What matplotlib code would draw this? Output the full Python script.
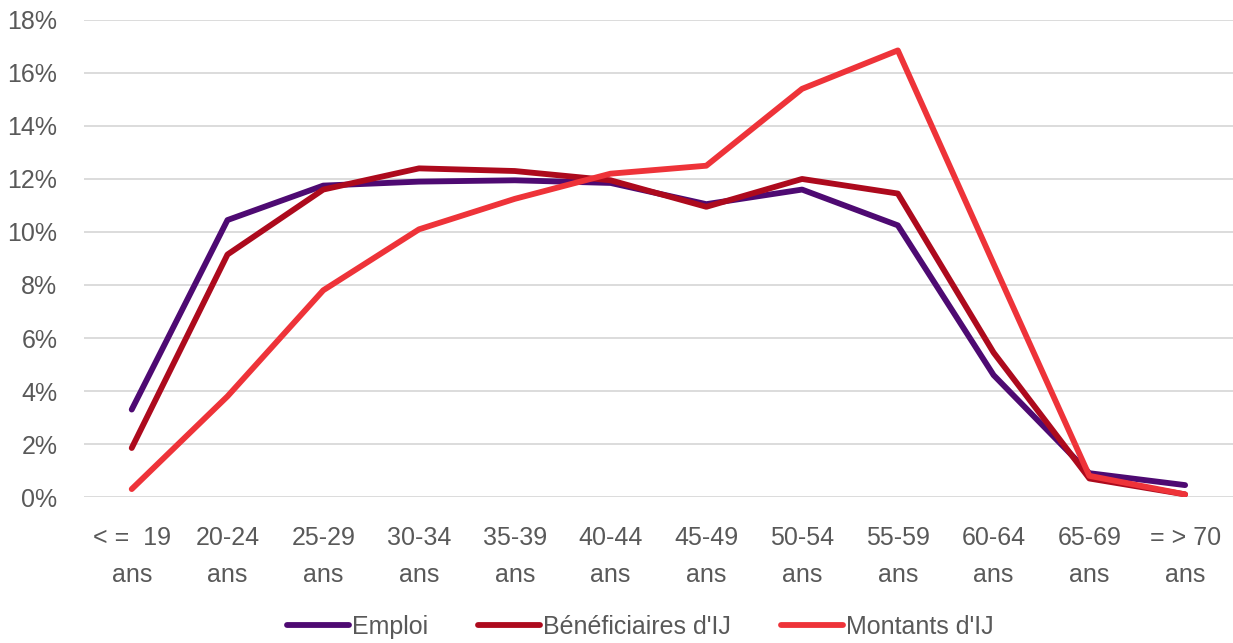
import matplotlib.pyplot as plt
from matplotlib.ticker import FuncFormatter

categories = ["< =  19\nans", "20-24\nans", "25-29\nans", "30-34\nans", "35-39\nans", "40-44\nans",
              "45-49\nans", "50-54\nans", "55-59\nans", "60-64\nans", "65-69\nans", "= > 70\nans"]
emploi = [3.3, 10.45, 11.75, 11.9, 11.95, 11.85, 11.05, 11.6, 10.25, 4.6, 0.9, 0.45]
beneficiaires = [1.85, 9.15, 11.6, 12.4, 12.3, 11.95, 10.95, 12.0, 11.45, 5.45, 0.7, 0.1]
montants = [0.3, 3.8, 7.8, 10.1, 11.25, 12.2, 12.5, 15.4, 16.85, 8.8, 0.8, 0.1]

plt.rcParams['font.family'] = ['Liberation Sans', 'DejaVu Sans']

fig, ax = plt.subplots(figsize=(12.33, 6.43), dpi=100)
fig.subplots_adjust(left=0.068, right=1.0, top=0.969, bottom=0.227)

x = range(len(categories))
ax.plot(x, emploi, color="#4e0a72", lw=4.2, label="Emploi", solid_capstyle="round")
ax.plot(x, beneficiaires, color="#ad0a1d", lw=4.2, label="Bénéficiaires d'IJ", solid_capstyle="round")
ax.plot(x, montants, color="#ee3339", lw=4.2, label="Montants d'IJ", solid_capstyle="round")

ax.set_xlim(-0.5, len(categories) - 0.5)
ax.set_ylim(0, 18)
ax.set_yticks(range(0, 19, 2))
ax.yaxis.set_major_formatter(FuncFormatter(lambda v, p: f"{v:.0f}%"))
ax.set_xticks(list(x))
ax.set_xticklabels(categories, linespacing=1.65)
ax.tick_params(axis="both", length=0, labelsize=18, colors="#595959")
ax.tick_params(axis="x", pad=21)
ax.tick_params(axis="y", pad=19)
ax.grid(axis="y", color="#d9d9d9", lw=1.3)
ax.set_axisbelow(True)
for s in ax.spines.values():
    s.set_visible(False)

leg = fig.legend(loc="lower center", bbox_to_anchor=(0.519, -0.028), ncol=3, frameon=False,
                 fontsize=18, handlelength=2.5, handletextpad=0.1, columnspacing=2.0)
for t in leg.get_texts():
    t.set_color("#595959")

fig.savefig("out.png")
